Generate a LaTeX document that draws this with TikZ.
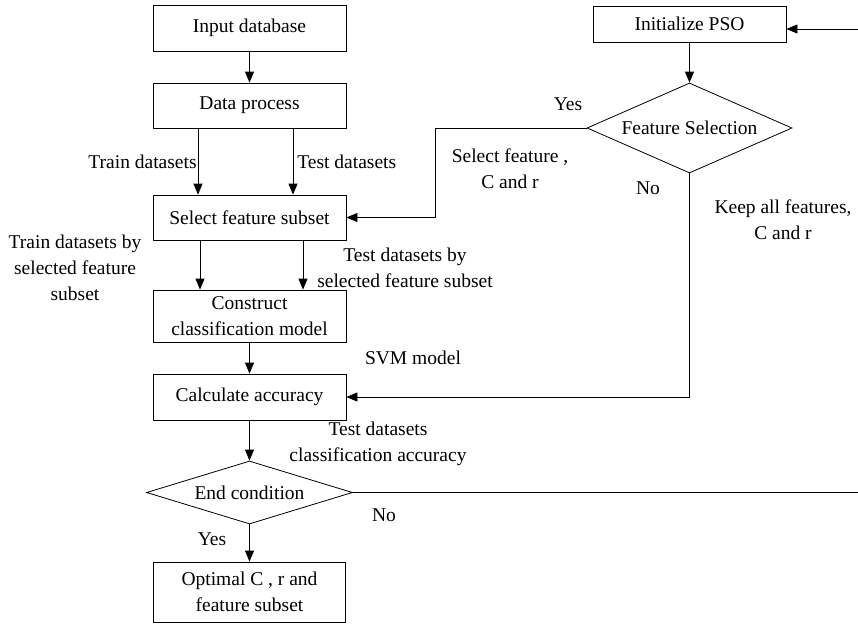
\documentclass[tikz,border=0pt]{standalone}
\usepackage{fontspec}
\setmainfont{Liberation Serif}
\usepackage{tikz}
\usetikzlibrary{arrows.meta}
\usetikzlibrary{shapes.geometric}
\usetikzlibrary{positioning}

\begin{document}
\begin{tikzpicture}[x=1pt, y=-1pt,
    every node/.style={font=\fontsize{19.5pt}{26pt}\selectfont},
    box/.style={draw, rectangle, inner sep=0pt, minimum width=193pt, minimum height=46pt, align=center},
    decision/.style={draw, diamond, inner sep=0pt, aspect=2.5},
    lbl/.style={inner sep=0pt, align=center},
    arr/.style={-{Triangle[length=11pt, width=9pt]}},
    line width=0.8pt]
            \useasboundingbox (0,0) rectangle (858,624);

            % left column
            \draw (249.5,28) node[box]                                   (input) {Input database};
            \draw (249.5,105.5) node[box, minimum height=45pt]           (process) {Data process};
            \draw (249.5,217.5) node[box, minimum height=45pt]           (select) {Select feature subset};
            \draw (249.5,316) node[box, minimum height=52pt]             (construct) {Construct\\classification model};
            \draw (249.5,397) node[box]                                  (calc) {Calculate accuracy};
            \draw (249.5,492.5) node[decision, minimum width=206pt, minimum height=63pt] (endc) {End condition};
            \draw (249.5,592) node[box, minimum width=192pt, minimum height=60pt] (optimal) {Optimal C , r and\\feature subset};

            % PSO side
            \draw (689.5,24) node[box, minimum height=36pt]              (pso) {Initialize PSO};
            \draw (689.5,128) node[decision, minimum width=205pt, minimum height=90pt] (fsel) {Feature Selection};

            \coordinate (loopout) at (858,492.5);
            \coordinate (loopin) at (858,29);

            \draw[arr] (input) -- (process);
            \draw[arr] ([xshift=-51.5pt]process.south) -- ([xshift=-51.5pt]select.north)
                node[lbl, midway, left=1pt] (traind) {Train datasets};
            \draw[arr] ([xshift=43.5pt]process.south) -- ([xshift=43.5pt]select.north)
                node[lbl, midway, right=4pt] (testd) {Test datasets};
            \draw[arr] ([xshift=-49.5pt]select.south) -- ([xshift=-49.5pt]construct.north);
            \draw[arr] ([xshift=53.5pt]select.south) -- ([xshift=53.5pt]construct.north);
            \draw[arr] (construct) -- (calc);
            \draw[arr] (calc) -- (endc);
            \draw[arr] (endc) -- (optimal);
            \draw (endc.east) -- (loopout);
            \draw[arr] (loopin) -- (loopin -| pso.east);
            \draw[arr] (pso) -- (fsel);
            \draw[arr] (fsel.west) -- ++(-151,0) |- (select.east);
            \draw[arr] (fsel.south) |- (calc.east);

            % labels
            \draw (75,268) node[lbl]     (trainsel) {Train datasets by\\selected feature\\subset};
            \draw (405,267.5) node[lbl]  (testsel) {Test datasets by\\selected feature subset};
            \draw (413,358) node[lbl]    (svm) {SVM model};
            \draw (378,444) node[lbl]    (testacc) {Test datasets\\classification accuracy};
            \draw (384,515) node[lbl]    (endno) {No};
            \draw (212,539) node[lbl]    (endyes) {Yes};
            \draw (568,104) node[lbl]    (fselyes) {Yes};
            \draw (510,169) node[lbl]    (selcr) {Select feature ,\\C and r};
            \draw (648,188) node[lbl]    (fselno) {No};
            \draw (783,219.5) node[lbl]  (keepcr) {Keep all features,\\C and r};

            \end{tikzpicture}
\end{document}
